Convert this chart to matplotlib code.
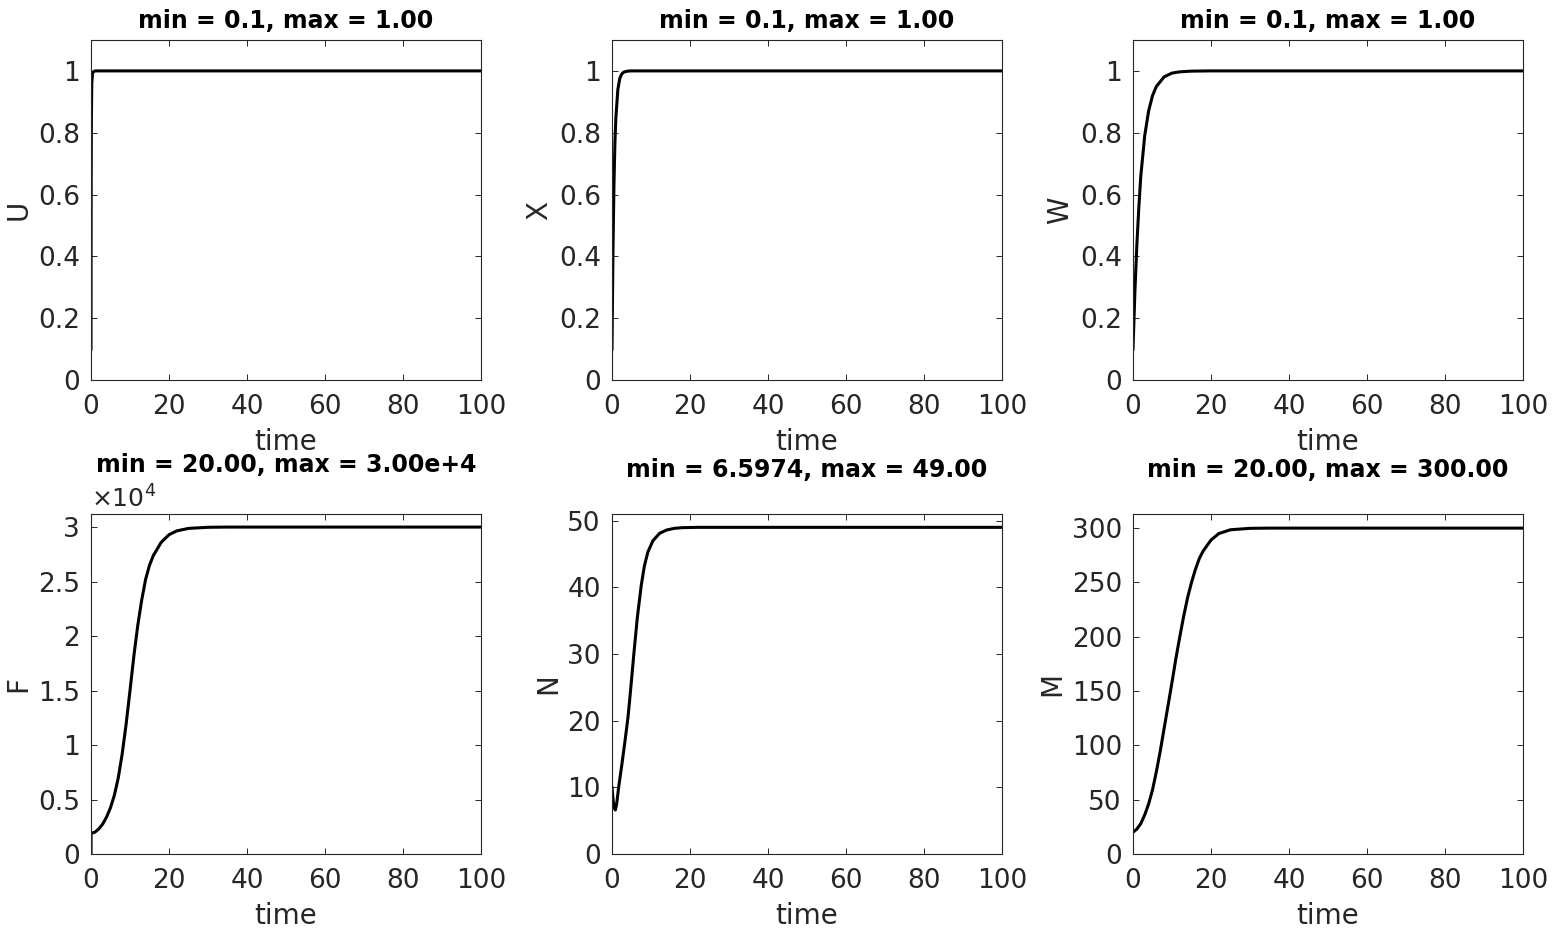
import matplotlib
matplotlib.use("Agg")
import matplotlib.pyplot as plt
from matplotlib.ticker import FuncFormatter, MultipleLocator

# ---------------- data ----------------
t_U = [0, 0.02, 0.05, 0.1, 0.2, 0.4, 1, 100]
U = [0.1, 0.4, 0.65, 0.85, 0.96, 0.995, 1.0, 1.0]

t_X = [0, 0.25, 0.5, 0.75, 1, 1.5, 2, 2.5, 3, 4, 5, 100]
X = [0.1, 0.42, 0.63, 0.77, 0.85, 0.94, 0.976, 0.99, 0.996, 0.9993, 1.0, 1.0]

t_W = [0, 0.5, 1, 1.5, 2, 3, 4, 5, 6, 8, 10, 12, 15, 20, 100]
W = [0.1, 0.29, 0.44, 0.56, 0.66, 0.79, 0.87, 0.92, 0.95, 0.981, 0.993, 0.997, 0.9993, 1.0, 1.0]

t_F = [0, 0.02, 1, 2, 3, 4, 5, 6, 7, 8, 9, 10, 11, 12, 13, 14, 15, 16, 17, 18, 20, 22, 25, 30, 35, 100]
F = [20, 1900, 2000, 2300, 2750, 3400, 4250, 5400, 7000, 9200, 11900, 15000, 18200, 21000,
     23300, 25200, 26500, 27400, 28000, 28600, 29300, 29650, 29880, 29980, 30000, 30000]

t_N = [0, 0.3, 0.6, 0.85, 1.2, 1.7, 2.5, 3.3, 4.1, 4.8, 5.6, 6.5, 7.5, 8.3, 9.2, 10.5, 12.2, 14, 16, 18, 22, 30, 100]
N = [10, 8.0, 6.9, 6.6, 7.5, 10, 13.3, 16.8, 20.5, 24.8, 30, 35.5, 40.3, 43.2, 45.3, 47.0, 48.1, 48.6, 48.85, 48.95, 49, 49, 49]

t_M = [0, 1, 2, 3, 4, 5, 6, 7, 8, 9, 10, 11, 12, 13, 14, 15, 16, 17, 18, 20, 22, 25, 30, 35, 100]
M = [20, 23, 28, 36, 46, 59, 76, 95, 116, 137, 158, 180, 200, 219, 236, 250, 262, 272, 279,
     289, 295, 298.5, 299.8, 300, 300]

names = ["U", "X", "W", "F", "N", "M"]
titles = ["min = 0.1, max = 1.00", "min = 0.1, max = 1.00", "min = 0.1, max = 1.00",
          "min = 20.00, max = 3.00e+4", "min = 6.5974, max = 49.00", "min = 20.00, max = 300.00"]
ylims = [1.1, 1.1, 1.1, 3.12e4, 51, 313]
ystep = [0.2, 0.2, 0.2, 5000, 10, 50]
series = [(t_U, U), (t_X, X), (t_W, W), (t_F, F), (t_N, N), (t_M, M)]

# ---------------- figure ----------------
plt.rcParams['font.family'] = ['DejaVu Sans']
W_PX, H_PX = 1555, 930
fig = plt.figure(figsize=(W_PX / 100, H_PX / 100), dpi=100)

col_left = [91, 612, 1133]
row_top = [40, 514]
ax_w, ax_h = 390, 340
dark = '#262626'
title_pad = [9, 9, 9, 30, 27, 27]

for i in range(6):
    r, c = divmod(i, 3)
    l = col_left[c] / W_PX
    b = 1 - (row_top[r] + ax_h) / H_PX
    ax = fig.add_axes([l, b, ax_w / W_PX, ax_h / H_PX])
    t, y = series[i]
    ax.plot(t, y, color='black', lw=2.2)
    ax.set_xlim(0, 100)
    ax.set_ylim(0, ylims[i])
    ax.xaxis.set_major_locator(MultipleLocator(20))
    ax.yaxis.set_major_locator(MultipleLocator(ystep[i]))
    if names[i] == "F":
        ax.yaxis.set_major_formatter(FuncFormatter(lambda v, p: f"{v/1e4:g}"))
        ax.text(0.0, 1.005, r'$\times10^{4}$', transform=ax.transAxes, fontsize=18,
                color=dark, ha='left', va='bottom')
    else:
        ax.yaxis.set_major_formatter(FuncFormatter(lambda v, p: f"{v:g}"))
    ax.tick_params(direction='in', length=4, width=0.7, top=True, right=True,
                   labelsize=19, colors=dark)
    ax.tick_params(axis='x', pad=10)
    ax.tick_params(axis='y', pad=8)
    for s in ax.spines.values():
        s.set_color(dark)
        s.set_linewidth(0.8)
    ax.set_xlabel("time", fontsize=20, color=dark, labelpad=6)
    ax.set_ylabel(names[i], fontsize=20, color=dark, labelpad=4)
    ax.set_title(titles[i], fontsize=17, fontweight='bold', color='black',
                 pad=title_pad[i])

fig.savefig("out.png", dpi=100, facecolor='white')
